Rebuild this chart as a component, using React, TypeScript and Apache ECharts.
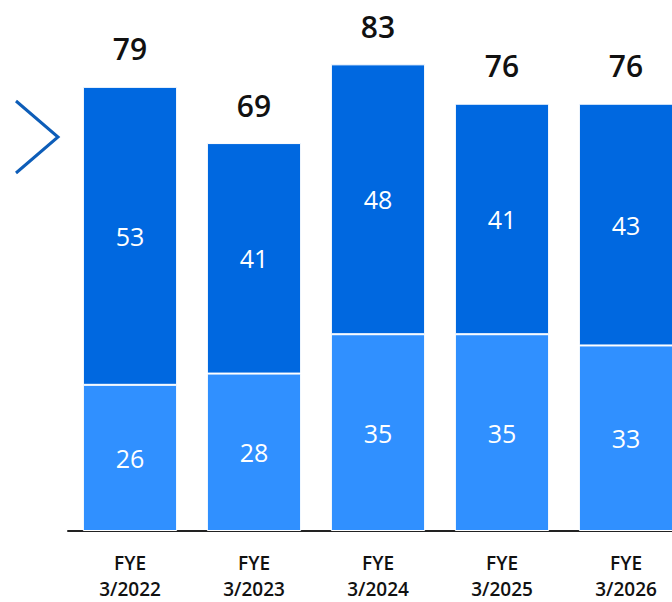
import React, { useEffect, useRef } from "react";
import * as echarts from "echarts";

const categories = ["FYE\n3/2022", "FYE\n3/2023", "FYE\n3/2024", "FYE\n3/2025", "FYE\n3/2026"];
const lowerValues = [26, 28, 35, 35, 33];
const upperValues = [53, 41, 48, 41, 43];
const totals = [79, 69, 83, 76, 76];

const FONT = "'Open Sans', 'Noto Sans', sans-serif";

export default function App() {
  const ref = useRef<HTMLDivElement>(null);
  useEffect(() => {
    if (!ref.current) return;
    const chart = echarts.init(ref.current, undefined, { renderer: "svg" });
    chart.setOption({
      animation: false,
      backgroundColor: "#ffffff",
      grid: { left: 68, right: 0, top: 25, bottom: 69, containLabel: false },
      xAxis: {
        type: "category",
        data: categories,
        axisTick: { show: false },
        axisLine: { show: true, lineStyle: { color: "#222222", width: 2 } },
        axisLabel: {
          color: "#111111",
          fontFamily: FONT,
          fontSize: 19,
          fontWeight: 600,
          lineHeight: 26,
          margin: 19,
        },
      },
      yAxis: { type: "value", min: 0, max: 90, show: false, splitLine: { show: false } },
      graphic: [
        {
          type: "polyline",
          shape: { points: [[16, 101], [58, 137], [16, 173]] },
          style: { stroke: "#0D5DB8", lineWidth: 3, fill: null },
        },
      ],
      series: [
        {
          type: "bar",
          stack: "total",
          data: lowerValues,
          barCategoryGap: "24%",
          itemStyle: { color: "#3090FF", borderColor: "#ffffff", borderWidth: 1 },
          label: {
            show: true,
            position: "inside",
            color: "#ffffff",
            fontFamily: FONT,
            fontSize: 25,
            fontWeight: 500,
          },
        },
        {
          type: "bar",
          stack: "total",
          data: upperValues,
          itemStyle: { color: "#0068E0", borderColor: "#ffffff", borderWidth: 1 },
          label: {
            show: true,
            position: "inside",
            color: "#ffffff",
            fontFamily: FONT,
            fontSize: 25,
            fontWeight: 500,
          },
        },
        {
          type: "bar",
          stack: "total",
          data: totals.map(() => 0),
          itemStyle: { color: "transparent" },
          label: {
            show: true,
            position: "top",
            distance: 23,
            color: "#111111",
            fontFamily: FONT,
            fontSize: 30,
            fontWeight: 600,
            formatter: (p: any) => String(totals[p.dataIndex]),
          },
        },
      ],
    });
    return () => chart.dispose();
  }, []);
  return (
    <div
      style={{ position: "absolute", left: 0, top: 0, width: 672, height: 602, overflow: "hidden", background: "#fff" }}
    >
      <div ref={ref} style={{ width: 688, height: 602 }} />
    </div>
  );
}
